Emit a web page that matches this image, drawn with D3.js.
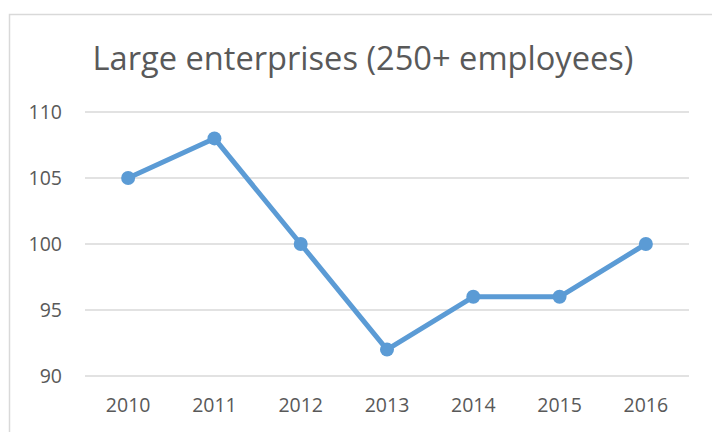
<!DOCTYPE html>
<html>
<head>
<meta charset="utf-8">
<script src="https://cdn.jsdelivr.net/npm/d3@7"></script>
<style>
  html, body { margin: 0; padding: 0; background: #fff; }
  svg { display: block; }
</style>
</head>
<body>
<svg id="chart" width="712" height="432"></svg>
<script>
const years = ["2010", "2011", "2012", "2013", "2014", "2015", "2016"];
const values = [105, 108, 100, 92, 96, 96, 100];
const yTicks = [90, 95, 100, 105, 110];
const title = "Large enterprises (250+ employees)";

const font = "'Open Sans', 'Noto Sans', sans-serif";
const textColor = "#595959";
const lineColor = "#5b9bd5";
const gridColor = "#d9d9d9";

const svg = d3.select("#chart");

// chart frame (continues past the right and bottom edges)
svg.append("rect")
  .attr("x", 9.5).attr("y", 14.5)
  .attr("width", 720).attr("height", 440)
  .attr("fill", "#fff")
  .attr("stroke", gridColor)
  .attr("stroke-width", 1.5);

const plot = { left: 85, right: 689, top: 112, bottom: 376 };

const x = d3.scaleBand().domain(years).range([plot.left, plot.right]).padding(0);
const y = d3.scaleLinear().domain([90, 110]).range([plot.bottom, plot.top]);

// title, sized to span the header width
const titleText = svg.append("text")
  .attr("x", 363).attr("y", 70)
  .attr("text-anchor", "middle")
  .attr("font-family", font)
  .attr("font-size", 33)
  .attr("fill", textColor)
  .text(title);
const tw = titleText.node().getComputedTextLength();
titleText.attr("font-size", 33 * 541 / tw);

// gridlines
svg.append("g")
  .selectAll("line")
  .data(yTicks)
  .join("line")
  .attr("x1", plot.left).attr("x2", plot.right)
  .attr("y1", d => y(d)).attr("y2", d => y(d))
  .attr("stroke", gridColor)
  .attr("stroke-width", 1.5);

// y axis labels
const yAxis = d3.axisLeft(y).tickValues(yTicks).tickSize(0).tickPadding(0);
const gy = svg.append("g")
  .attr("transform", `translate(62,0)`)
  .call(yAxis);
gy.select(".domain").remove();
gy.selectAll("text")
  .attr("font-family", font)
  .attr("font-size", 19.5)
  .attr("fill", textColor);

// x axis labels
const xAxis = d3.axisBottom(x).tickSize(0).tickPadding(0);
const gx = svg.append("g")
  .attr("transform", `translate(0,${plot.bottom + 22})`)
  .call(xAxis);
gx.select(".domain").remove();
gx.selectAll("text")
  .attr("font-family", font)
  .attr("font-size", 19.5)
  .attr("fill", textColor);

const cx = d => x(d) + x.bandwidth() / 2;

// series line
const line = d3.line()
  .x((d, i) => cx(years[i]))
  .y(d => y(d));

svg.append("path")
  .datum(values)
  .attr("d", line)
  .attr("fill", "none")
  .attr("stroke", lineColor)
  .attr("stroke-width", 5)
  .attr("stroke-linejoin", "round");

// markers
svg.append("g")
  .selectAll("circle")
  .data(values)
  .join("circle")
  .attr("cx", (d, i) => cx(years[i]))
  .attr("cy", d => y(d))
  .attr("r", 7)
  .attr("fill", lineColor);
</script>
</body>
</html>
